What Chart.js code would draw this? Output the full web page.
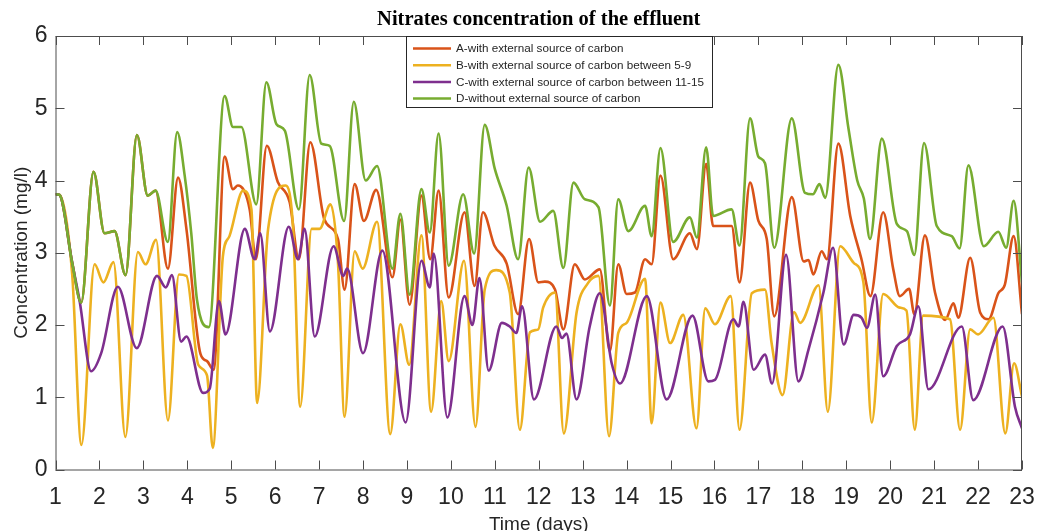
<!DOCTYPE html>
<html>
<head>
<meta charset="utf-8">
<title>Nitrates concentration of the effluent</title>
<script src="https://cdn.jsdelivr.net/npm/chart.js@4/dist/chart.umd.min.js"></script>
<style>
  html, body { margin: 0; padding: 0; background: #fff; }
  canvas { display: block; }
</style>
</head>
<body>
<canvas id="nitrateChart" width="1040" height="531"></canvas>
<script>
// A - with external source of carbon
const daysA = [1.00, 1.09, 1.38, 1.585, 1.866, 2.116, 2.344, 2.595, 2.853, 3.10, 3.278,
  3.56, 3.79, 3.98, 4.30, 4.45, 4.60, 4.85, 5.04, 5.15, 5.42, 5.56, 5.81, 6.06, 6.33, 6.54,
  6.80, 7.12, 7.43, 7.58, 7.81, 8.02, 8.30, 8.67, 8.85, 9.06, 9.33, 9.53, 9.72, 9.95, 10.31,
  10.54, 10.73, 10.99, 11.27, 11.53, 11.78, 11.99, 12.14, 12.37, 12.56, 12.82, 13.05, 13.39,
  13.62, 13.81, 14.00, 14.19, 14.42, 14.57, 14.77, 15.06, 15.44, 15.60, 15.81, 15.97, 16.39,
  16.57, 16.81, 17.00, 17.19, 17.36, 17.76, 18.03, 18.14, 18.25, 18.44, 18.56, 18.82, 19.09,
  19.35, 19.55, 19.84, 20.07, 20.22, 20.43, 20.55, 20.79, 21.02, 21.25, 21.44, 21.55, 21.82,
  22.05, 22.24, 22.46, 22.61, 22.81, 23.00];
const concA = [3.81, 3.80, 2.86, 2.31, 4.12, 3.27, 3.30, 2.69, 4.63, 3.79, 3.86,
  2.78, 4.04, 3.33, 1.60, 1.50, 1.38, 4.33, 3.88, 3.93, 3.60, 2.91, 4.48, 3.98, 3.70, 2.91,
  4.53, 3.46, 3.19, 2.49, 3.95, 3.44, 3.87, 2.66, 3.46, 2.28, 3.79, 2.91, 3.86, 2.38, 3.56,
  2.54, 3.56, 3.10, 2.85, 2.15, 3.19, 2.59, 2.60, 2.49, 1.94, 2.84, 2.63, 2.77,
  1.64, 2.84, 2.43, 2.45, 2.91, 2.84, 4.07, 2.91, 3.27, 3.05, 4.23, 3.37, 3.37,
  2.59, 3.97, 3.44, 3.19, 2.12, 3.77, 2.88, 2.90, 2.70, 3.02, 2.91, 4.51, 3.51,
  2.90, 2.40, 3.56, 2.77, 2.40, 2.50, 2.15, 3.24, 2.45, 2.07, 2.30, 2.10, 2.93,
  2.17, 2.08, 2.44, 2.56, 3.23, 2.15];

// B - with external source of carbon between 5-9
const daysB = [1.00, 1.09, 1.38, 1.59, 1.89, 2.09, 2.32, 2.59, 2.875, 3.05, 3.29, 3.56,
  3.81, 3.98, 4.25, 4.45, 4.58, 4.81, 4.96, 5.27, 5.46, 5.59, 5.84, 6.24, 6.41, 6.57, 6.83,
  7.01, 7.26, 7.43, 7.58, 7.81, 7.99, 8.32, 8.62, 8.85, 9.05, 9.33, 9.55, 9.78, 9.95, 10.30,
  10.56, 10.77, 11.03, 11.34, 11.57, 11.80, 11.99, 12.10, 12.37, 12.57, 12.86, 13.12, 13.36,
  13.60, 13.81, 14.00, 14.42, 14.57, 14.77, 14.99, 15.29, 15.59, 15.79, 16.01, 16.37, 16.57,
  16.85, 17.15, 17.30, 17.55, 17.81, 17.95, 18.37, 18.58, 18.86, 19.17, 19.39, 19.58, 19.84,
  20.22, 20.37, 20.56, 20.75, 21.36, 21.59, 21.82, 22.00, 22.35, 22.62, 22.82, 23.00];
const concB = [3.81, 3.80, 2.70, 0.34, 2.84, 2.59, 2.87, 0.45, 3.01, 2.84, 3.18, 0.68,
  2.70, 2.68, 1.45, 1.30, 0.30, 2.95, 3.23, 3.86, 3.60, 0.92, 3.33, 3.93, 3.33, 0.87, 3.33,
  3.33, 3.67, 2.86, 0.73, 3.02, 2.78, 3.43, 0.49, 2.01, 1.45, 3.24, 0.80, 2.33, 1.50, 2.89,
  0.59, 2.49, 2.76, 2.45, 0.55, 1.90, 1.94, 2.24, 2.45, 0.50, 2.17, 2.58, 2.68,
  0.46, 1.89, 2.03, 2.64, 0.64, 2.31, 1.75, 2.14, 0.57, 2.23, 2.01, 2.40, 0.55,
  2.44, 2.49, 1.75, 1.03, 2.18, 2.03, 2.55, 0.80, 3.09, 2.86, 2.59, 0.65, 2.43,
  2.24, 2.20, 0.55, 2.13, 2.08, 0.55, 1.94, 1.87, 2.10, 0.50, 1.47, 1.01];

// C - with external source of carbon between 11-15
const daysC = [1.00, 1.09, 1.38, 1.55, 1.81, 2.04, 2.42, 2.85, 3.31, 3.51, 3.65, 3.86,
  3.98, 4.36, 4.51, 4.72, 4.87, 5.31, 5.53, 5.66, 5.88, 6.31, 6.52, 6.67, 6.90, 7.33, 7.55,
  7.64, 8.00, 8.44, 8.97, 9.33, 9.52, 9.61, 9.92, 10.31, 10.49, 10.65, 10.86, 11.16, 11.34,
  11.49, 11.62, 11.89, 12.40, 12.53, 12.63, 12.86, 13.16, 13.39, 13.66, 13.85, 14.46, 14.91,
  15.50, 15.86, 16.01, 16.43, 16.55, 16.66, 16.89, 17.15, 17.31, 17.63, 17.91, 18.14, 18.48,
  18.70, 18.94, 19.17, 19.35, 19.47, 19.66, 19.84, 20.15, 20.45, 20.64, 20.87, 21.63, 21.89,
  22.56, 22.84, 23.00];
const concC = [3.81, 3.80, 2.86, 2.33, 1.36, 1.61, 2.53, 1.68, 2.68, 2.52, 2.69, 1.77,
  1.84, 1.06, 1.12, 2.33, 1.87, 3.33, 2.91, 3.27, 1.91, 3.36, 2.91, 3.33, 1.84, 3.09, 2.68,
  2.78, 1.61, 3.03, 0.65, 2.89, 2.52, 2.99, 0.72, 2.40, 2.00, 2.65, 1.37, 2.03, 1.98,
  1.89, 2.26, 0.97, 1.98, 1.82, 1.88, 0.97, 1.98, 2.44, 1.47, 1.19, 2.40, 0.97,
  2.13, 1.22, 1.24, 2.08, 1.98, 2.32, 1.38, 1.59, 1.19, 2.97, 1.22, 1.66, 2.45,
  3.07, 1.73, 2.14, 2.10, 1.96, 2.42, 1.29, 1.71, 1.87, 2.26, 1.11, 1.98, 0.96,
  1.98, 0.87, 0.57];

// D - without external source of carbon
const daysD = [1.00, 1.09, 1.38, 1.585, 1.866, 2.116, 2.344, 2.595, 2.853, 3.10, 3.278,
  3.558, 3.77, 3.94, 4.09, 4.22, 4.49, 4.85, 5.04, 5.23, 5.57, 5.80, 6.03, 6.22, 6.54, 6.786,
  7.05, 7.24, 7.57, 7.79, 8.06, 8.32, 8.67, 8.85, 9.06, 9.33, 9.52, 9.72, 9.95, 10.28, 10.53,
  10.77, 11.00, 11.27, 11.53, 11.77, 12.03, 12.33, 12.56, 12.79, 13.05, 13.36, 13.62, 13.81,
  14.04, 14.42, 14.57, 14.77, 15.06, 15.44, 15.60, 15.81, 15.97, 16.39, 16.57, 16.81, 17.00,
  17.15, 17.36, 17.76, 18.06, 18.24, 18.39, 18.52, 18.82, 19.05, 19.25, 19.40, 19.54, 19.81,
  20.15, 20.38, 20.55, 20.77, 21.06, 21.40, 21.58, 21.78, 22.13, 22.46, 22.64, 22.81, 23.00];
const concD = [3.81, 3.80, 2.86, 2.31, 4.12, 3.27, 3.30, 2.69, 4.63, 3.79, 3.86,
  3.15, 4.67, 4.07, 3.27, 2.35, 1.97, 5.17, 4.74, 4.74, 3.67, 5.36, 4.78, 4.69, 3.60, 5.46,
  4.51, 4.48, 3.44, 5.09, 4.00, 4.20, 2.78, 3.54, 2.42, 3.88, 3.28, 4.65, 2.82, 3.81, 2.99,
  4.77, 4.16, 3.65, 2.91, 4.18, 3.43, 3.58, 2.79, 3.97, 3.74, 3.63, 2.27, 3.74,
  3.30, 3.65, 3.23, 4.45, 3.15, 3.49, 3.21, 4.46, 3.51, 3.60, 3.10, 4.86, 4.33,
  4.24, 3.07, 4.86, 3.83, 3.81, 3.95, 3.76, 5.60, 4.72, 4.00, 3.75, 3.19, 4.58,
  3.40, 3.30, 2.97, 4.52, 3.37, 3.23, 3.06, 4.21, 3.09, 3.29, 3.07, 3.72, 2.59];

const seriesLabels = [
  "A-with external source of carbon",
  "B-with external source of carbon between 5-9",
  "C-with external source of carbon between 11-15",
  "D-without external source of carbon"
];
const seriesColors = ["#D95319", "#EDB120", "#7E2F8E", "#77AC30"];
const xTickValues = [1, 2, 3, 4, 5, 6, 7, 8, 9, 10, 11, 12, 13, 14, 15, 16, 17, 18, 19, 20, 21, 22, 23];
const yTickValues = [0, 1, 2, 3, 4, 5, 6];

const axisColor = "#262626";
const tickFont = "'Liberation Sans', Arial, sans-serif";

function zip(xs, ys) {
  return xs.map((x, i) => ({ x: x, y: ys[i] }));
}

// MATLAB style box: frame, inward ticks, title, axis labels and legend box
const matlabBox = {
  id: "matlabBox",
  afterDraw(chart) {
    const { ctx, chartArea: a, scales } = chart;
    const tl = 9;
    ctx.save();
    ctx.strokeStyle = "#4d4d4d";
    ctx.lineWidth = 1;
    ctx.beginPath();
    ctx.rect(a.left + 0.5, a.top + 0.5, a.right - a.left - 1, a.bottom - a.top);
    ctx.stroke();

    ctx.beginPath();
    xTickValues.forEach(v => {
      const px = Math.round(scales.x.getPixelForValue(v)) + 0.5;
      ctx.moveTo(px, a.bottom); ctx.lineTo(px, a.bottom - tl);
      ctx.moveTo(px, a.top); ctx.lineTo(px, a.top + tl);
    });
    yTickValues.forEach(v => {
      const py = Math.round(scales.y.getPixelForValue(v)) + 0.5;
      ctx.moveTo(a.left, py); ctx.lineTo(a.left + tl, py);
      ctx.moveTo(a.right, py); ctx.lineTo(a.right - tl, py);
    });
    ctx.stroke();

    // title
    const cx = (a.left + a.right) / 2;
    ctx.fillStyle = "#000";
    ctx.font = "bold 20.5px 'Liberation Serif', 'Times New Roman', serif";
    ctx.textAlign = "center";
    ctx.textBaseline = "alphabetic";
    ctx.fillText("Nitrates concentration of the effluent", cx, 25);

    // axis labels
    ctx.fillStyle = axisColor;
    ctx.font = "19px 'Liberation Sans', Arial, sans-serif";
    ctx.fillText("Time (days)", cx, 530);
    ctx.save();
    ctx.translate(27, (a.top + a.bottom) / 2);
    ctx.rotate(-Math.PI / 2);
    ctx.fillText("Concentration (mg/l)", 0, 0);
    ctx.restore();

    // legend
    const lx = 406.5, ly = a.top + 0.5, lw = 306, lh = 71;
    ctx.fillStyle = "#fff";
    ctx.fillRect(lx, ly, lw, lh);
    ctx.strokeStyle = "#262626";
    ctx.strokeRect(lx, ly, lw, lh);
    ctx.font = "11.7px 'Liberation Sans', Arial, sans-serif";
    ctx.textAlign = "left";
    ctx.textBaseline = "middle";
    seriesLabels.forEach((label, i) => {
      const y = ly + 12 + i * 16.7;
      ctx.strokeStyle = seriesColors[i];
      ctx.lineWidth = 2.5;
      ctx.beginPath();
      ctx.moveTo(413, y); ctx.lineTo(451, y);
      ctx.stroke();
      ctx.fillStyle = axisColor;
      ctx.fillText(label, 456, y + 0.5);
    });
    ctx.restore();
  }
};

const lineStyle = (i, xs, ys) => ({
  label: seriesLabels[i],
  data: zip(xs, ys),
  borderColor: seriesColors[i],
  backgroundColor: seriesColors[i],
  borderWidth: 2.6,
  pointRadius: 0,
  cubicInterpolationMode: "monotone",
  fill: false,
  order: 4 - i
});

new Chart(document.getElementById("nitrateChart").getContext("2d"), {
  type: "line",
  data: {
    datasets: [
      lineStyle(0, daysA, concA),
      lineStyle(1, daysB, concB),
      lineStyle(2, daysC, concC),
      lineStyle(3, daysD, concD)
    ]
  },
  options: {
    responsive: false,
    animation: false,
    events: [],
    layout: { padding: { top: 36, right: 18, left: 0, bottom: 0 } },
    plugins: {
      legend: { display: false },
      title: { display: false },
      tooltip: { enabled: false }
    },
    scales: {
      x: {
        type: "linear",
        min: 1,
        max: 23,
        grid: { display: false, drawTicks: false },
        border: { display: false },
        ticks: {
          stepSize: 1,
          autoSkip: false,
          maxRotation: 0,
          padding: 14,
          color: axisColor,
          font: { family: tickFont, size: 23 }
        },
        afterFit(scale) {
          scale.height = 61.5;
          scale.paddingLeft = 0;
          scale.paddingRight = 0;
        }
      },
      y: {
        min: 0,
        max: 6,
        grid: { display: false, drawTicks: false },
        border: { display: false },
        ticks: {
          stepSize: 1,
          padding: 8,
          color: axisColor,
          font: { family: tickFont, size: 23 }
        },
        afterFit(scale) {
          scale.width = 55.5;
          scale.paddingTop = 0;
          scale.paddingBottom = 0;
        }
      }
    }
  },
  plugins: [matlabBox]
});
</script>
</body>
</html>
